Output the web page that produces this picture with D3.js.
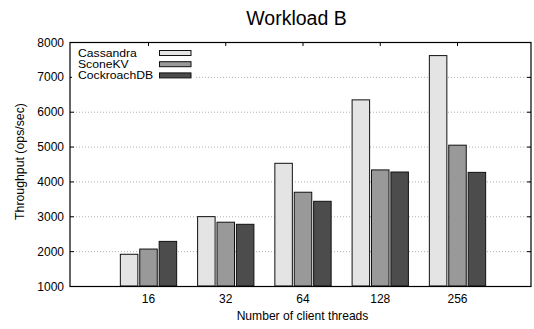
<!DOCTYPE html>
<html>
<head>
<meta charset="utf-8">
<script src="https://cdn.jsdelivr.net/npm/d3@7"></script>
<style>
  body { margin: 0; background: #fff; }
  svg { display: block; font-family: "Liberation Sans", Arial, sans-serif; }
</style>
</head>
<body>
<svg></svg>
<script>
var categories = ["16", "32", "64", "128", "256"];
var seriesNames = ["Cassandra", "SconeKV", "CockroachDB"];
var cassandra = [1910, 2990, 4520, 6340, 7610];
var sconekv = [2060, 2830, 3690, 4330, 5040];
var cockroach = [2280, 2770, 3430, 4270, 4260];
var yTicks = [1000, 2000, 3000, 4000, 5000, 6000, 7000, 8000];
var colors = ["#e4e4e4", "#999999", "#4c4c4c"];

var series = [cassandra, sconekv, cockroach];

var svgCanvas = d3.select("svg")
    .attr("width", 534)
    .attr("height", 329);

// plot box (note: "top" is reserved on window, so use pl/pr/pt/pb)
var pl = 70, pr = 531, pt = 42, pb = 286;

var y = d3.scaleLinear().domain([1000, 8000]).range([pb, pt]);
var x = d3.scaleLinear().domain([0, categories.length - 1]).range([148.5, 457.5]);
var step = 19.4, barW = 17.5;

// title
svgCanvas.append("text")
    .attr("x", 296.5).attr("y", 25)
    .attr("text-anchor", "middle")
    .attr("font-size", 19.5)
    .text("Workload B");

// gridlines
svgCanvas.append("g").selectAll("line")
    .data(yTicks.slice(1, -1)).enter()
    .append("line")
    .attr("x1", pl).attr("x2", pr)
    .attr("y1", function(d){ return y(d) + 0.5; })
    .attr("y2", function(d){ return y(d) + 0.5; })
    .attr("stroke", "#b0b0b0")
    .attr("stroke-dasharray", "1,2");

// ticks on left/right and top
var tickG = svgCanvas.append("g").attr("stroke", "#000");
yTicks.forEach(function(d){
    tickG.append("line").attr("x1", pl).attr("x2", pl + 4)
        .attr("y1", y(d) + 0.5).attr("y2", y(d) + 0.5);
    tickG.append("line").attr("x1", pr - 4).attr("x2", pr)
        .attr("y1", y(d) + 0.5).attr("y2", y(d) + 0.5);
});
categories.forEach(function(c, i){
    tickG.append("line").attr("x1", x(i)).attr("x2", x(i))
        .attr("y1", pt).attr("y2", pt + 4);
});

// legend background (hides gridline)
svgCanvas.append("rect")
    .attr("x", pl + 2).attr("y", pt + 4)
    .attr("width", 124).attr("height", 36)
    .attr("fill", "#fff");

// bars
series.forEach(function(vals, j){
    svgCanvas.append("g").selectAll("rect")
        .data(vals).enter()
        .append("rect")
        .attr("x", function(d, i){ return x(i) + (j - 1) * step - barW / 2; })
        .attr("y", function(d){ return y(d); })
        .attr("width", barW)
        .attr("height", function(d){ return y(1000) - y(d); })
        .attr("fill", colors[j])
        .attr("stroke", "#111")
        .attr("stroke-width", 1);
});

// frame
svgCanvas.append("rect")
    .attr("x", pl).attr("y", pt + 0.5)
    .attr("width", pr - pl).attr("height", pb - pt)
    .attr("fill", "none")
    .attr("stroke", "#000")
    .attr("stroke-width", 1.2);

// y tick labels
svgCanvas.append("g").selectAll("text")
    .data(yTicks).enter()
    .append("text")
    .attr("x", 64)
    .attr("y", function(d){ return y(d) + 4.5; })
    .attr("text-anchor", "end")
    .attr("font-size", 12)
    .text(function(d){ return d; });

// x tick labels
svgCanvas.append("g").selectAll("text")
    .data(categories).enter()
    .append("text")
    .attr("x", function(d, i){ return x(i); })
    .attr("y", 303)
    .attr("text-anchor", "middle")
    .attr("font-size", 12)
    .text(function(d){ return d; });

// axis titles
svgCanvas.append("text")
    .attr("x", 302.5).attr("y", 320)
    .attr("text-anchor", "middle")
    .attr("font-size", 12.1)
    .text("Number of client threads");

svgCanvas.append("text")
    .attr("transform", "translate(24,161.5) rotate(-90)")
    .attr("text-anchor", "middle")
    .attr("font-size", 12.3)
    .text("Throughput (ops/sec)");

// legend (gnuplot font looks short and wide, so stretch a smaller font)
var legend = svgCanvas.append("g");
seriesNames.forEach(function(name, j){
    var ly = 53 + j * 11.2;
    legend.append("text")
        .attr("transform", "translate(78," + (ly + 3.8) + ") scale(1.16,1)")
        .attr("font-size", 10.5)
        .text(name);
    legend.append("rect")
        .attr("x", 159.5).attr("y", ly - 2.5)
        .attr("width", 31.5).attr("height", 5)
        .attr("fill", colors[j])
        .attr("stroke", "#111");
});
</script>
</body>
</html>
